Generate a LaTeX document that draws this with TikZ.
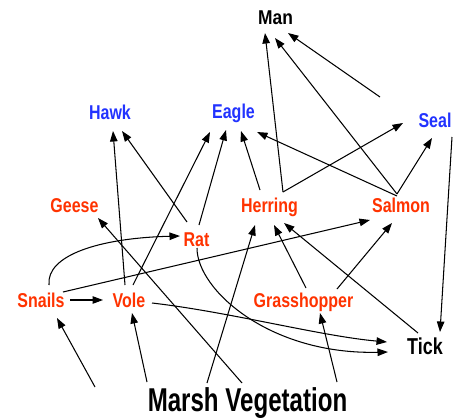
\documentclass[tikz,border=0pt]{standalone}
\usepackage{fontspec}
\usetikzlibrary{calc,arrows.meta}
\newfontfamily\labfont[FakeStretch=0.8]{Liberation Sans}
\newfontfamily\manfont[FakeStretch=0.87]{Liberation Sans}
\newfontfamily\tickfont[FakeStretch=0.78]{Liberation Sans}
\newfontfamily\bigfont[FakeStretch=0.73]{Liberation Sans}
\definecolor{predred}{RGB}{255,51,0}
\definecolor{predblue}{RGB}{34,51,255}
\tikzset{
  lab/.style={inner sep=0pt, text height=14.4pt, text depth=0pt, font=\labfont\bfseries\fontsize{20}{20}\selectfont},
  redlab/.style={lab, text=predred},
  bluelab/.style={lab, text=predblue},
  edge/.style={line width=1.05pt, -{Triangle[length=10.5pt,width=7.5pt]}},
}
\begin{document}
\begin{tikzpicture}[x=1pt,y=-1pt]
\useasboundingbox (0,0) rectangle (461,418);
\fill[white] (0,0) rectangle (461,418);
\node[lab, font=\manfont\bfseries\fontsize{20}{20}\selectfont] (Man) at (275.5,17.5) {Man};
\node[bluelab] (Hawk) at (110,112.5) {Hawk};
\node[bluelab] (Eagle) at (233.5,111) {Eagle};
\node[bluelab] (Seal) at (435,120.5) {Seal};
\node[redlab] (Geese) at (74.5,205.5) {Geese};
\node[redlab] (Herring) at (269.5,205.5) {Herring};
\node[redlab] (Salmon) at (401,205.5) {Salmon};
\node[redlab] (Rat) at (196.5,239.5) {Rat};
\node[redlab] (Snails) at (41,300.5) {Snails};
\node[redlab] (Vole) at (129,300.5) {Vole};
\node[redlab] (Grass) at (303.5,300.5) {Grasshopper};
\node[lab, text height=16.6pt, font=\tickfont\bfseries\fontsize{23}{23}\selectfont] (Tick) at (425,346.5) {Tick};
\node[lab, text height=23.8pt, font=\bigfont\bfseries\fontsize{33}{33}\selectfont] (Marsh) at (247.5,400) {Marsh Vegetation};

\draw[edge] ($(Herring)+(13.5,-13.5)$) -- ($(Man)+(-10.5,15.5)$);
\draw[edge] ($(Salmon)+(-4,-11.5)$) -- ($(Man)+(-0.5,20.5)$);
\draw[edge] ($(Seal)+(-55,-23.5)$) -- ($(Man)+(12.5,15.5)$);
\draw[edge] ($(Herring)+(13.5,-13.5)$) -- ($(Seal)+(-32,2.5)$);
\draw[edge] ($(Salmon)+(-4,-11.5)$) -- ($(Seal)+(-3,17.5)$);
\draw[edge] ($(Salmon)+(-4,-9.5)$) -- ($(Eagle)+(23.5,21)$);
\draw[edge] ($(Herring)+(-9.5,-15.5)$) -- ($(Eagle)+(7.5,20)$);
\draw[edge] ($(Rat)+(2.5,-14.5)$) -- ($(Eagle)+(-7.5,19)$);
\draw[edge] ($(Vole)+(4,-15.5)$) -- ($(Eagle)+(-23.5,21)$);
\draw[edge] ($(Vole)+(-4,-15.5)$) -- ($(Hawk)+(3,18.5)$);
\draw[edge] ($(Rat)+(-9.5,-17.5)$) -- ($(Hawk)+(12,18.5)$);
\draw[edge] ($(Snails)+(8,-15.5)$) .. controls +(-3,-30) and +(-80,2) .. ($(Rat)+(-16.5,-3.5)$);
\draw[edge] ($(Snails)+(22,-8.5)$) -- ($(Salmon)+(-31,14.5)$);
\draw[edge] ($(Snails)+(29,-0.5)$) -- ($(Vole)+(-26,-0.5)$);
\draw[edge] ($(Marsh)+(-152.5,-13)$) -- ($(Snails)+(16,17.5)$);
\draw[edge] ($(Marsh)+(-100.5,-18)$) -- ($(Vole)+(3,12.5)$);
\draw[edge] ($(Marsh)+(-40.5,-17)$) -- ($(Herring)+(-14.5,19.5)$);
\draw[edge] ($(Marsh)+(89.5,-18)$) -- ($(Grass)+(16.5,12.5)$);
\draw[edge] ($(Marsh)+(-5.5,-17)$) -- ($(Geese)+(23.5,12.5)$);
\draw[edge] ($(Grass)+(2.5,-12.5)$) -- ($(Herring)+(4.5,19.5)$);
\draw[edge] ($(Grass)+(33.5,-11.5)$) -- ($(Salmon)+(-9,17.5)$);
\draw[edge] ($(Tick)+(-7,-13.5)$) -- ($(Herring)+(14.5,17.5)$);
\draw[edge] ($(Seal)+(17,16.5)$) -- ($(Tick)+(15,-14.5)$);
\draw[edge] ($(Vole)+(23,2.5)$) .. controls +(78,9) and +(-67,-6) .. ($(Tick)+(-38,-4.5)$);
\draw[edge] ($(Rat)+(0.5,8.5)$) .. controls +(0,42) and +(-118,3) .. ($(Tick)+(-37,5.5)$);
\end{tikzpicture}
\end{document}
